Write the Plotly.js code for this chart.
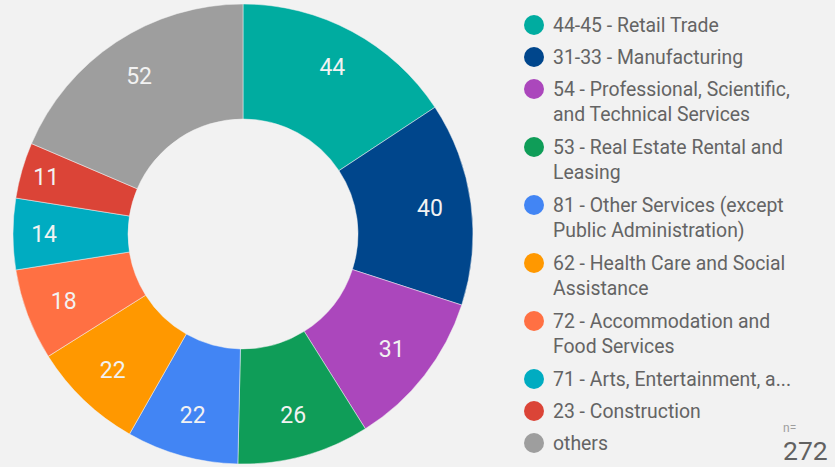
<!DOCTYPE html>
<html>
<head>
<meta charset="utf-8">
<script src="https://cdn.plot.ly/plotly-3.0.1.min.js"></script>
<style>html,body{margin:0;padding:0;background:#f2f2f2;}#chart{width:835px;height:467px;}</style>
</head>
<body>
<div id="chart"></div>
<script>
var categories = [
  '44-45 - Retail Trade',
  '31-33 - Manufacturing',
  '54 - Professional, Scientific,<br>and Technical Services',
  '53 - Real Estate Rental and<br>Leasing',
  '81 - Other Services (except<br>Public Administration)',
  '62 - Health Care and Social<br>Assistance',
  '72 - Accommodation and<br>Food Services',
  '71 - Arts, Entertainment, a...',
  '23 - Construction',
  'others'
];
var values = [44, 40, 31, 26, 22, 22, 18, 14, 11, 52];
var colors = ['#00aca0', '#00468c', '#ab47bc', '#0f9d58', '#4285f4', '#ff9800', '#ff7043', '#00acc1', '#db4437', '#9e9e9e'];
var totalN = 272;

var W = 835, H = 467;
function px(x){ return x / W; }
function py(y){ return 1 - y / H; }

var shapes = [], annotations = [];
var rowY = 25;
for (var i = 0; i < categories.length; i++) {
  var lines = categories[i].split('<br>').length;
  shapes.push({type:'circle', xref:'paper', yref:'paper',
    x0:px(524), x1:px(544), y0:py(rowY+10), y1:py(rowY-10),
    fillcolor:colors[i], line:{width:0}});
  annotations.push({xref:'paper', yref:'paper', x:px(551), y:py(rowY-13),
    xanchor:'left', yanchor:'top', align:'left', showarrow:false,
    text:categories[i], font:{family:'Roboto', size:19.4, color:'#646464'}});
  rowY += 32 + 26*(lines-1);
}
annotations.push({xref:'paper', yref:'paper', x:px(781), y:py(428), xanchor:'left', yanchor:'middle',
  showarrow:false, text:'n=', font:{family:'Roboto', size:12, color:'#9e9e9e'}});
annotations.push({xref:'paper', yref:'paper', x:px(829), y:py(450), xanchor:'right', yanchor:'middle',
  borderpad:0, showarrow:false, text:String(totalN), font:{family:'Roboto', size:26.5, color:'#616161'}});

var dom = {x:[px(13), px(473)], y:[py(464), py(4)]};
var ring = {
  type:'pie', labels:categories, values:values, hole:0.5, sort:false,
  direction:'clockwise', rotation:0,
  marker:{colors:colors, line:{color:'#f2f2f2', width:0.5}},
  textinfo:'none', domain:dom, showlegend:false, hoverinfo:'label+value'
};
var labelsRing = {
  type:'pie', labels:categories, values:values, hole:0.64, sort:false,
  direction:'clockwise', rotation:0,
  marker:{colors:colors.map(function(){return 'rgba(0,0,0,0)';}), line:{width:0}},
  textinfo:'value', textposition:'inside', insidetextorientation:'horizontal',
  textfont:{family:'Roboto', size:23, color:'#f2f2f2'},
  domain:dom, showlegend:false, hoverinfo:'skip'
};

var layout = {
  width:W, height:H, margin:{l:0, r:0, t:0, b:0},
  paper_bgcolor:'#f2f2f2', plot_bgcolor:'#f2f2f2',
  showlegend:false, shapes:shapes, annotations:annotations,
  font:{family:'Roboto'}
};
Plotly.newPlot('chart', [ring, labelsRing], layout, {displayModeBar:false, staticPlot:true});
</script>
</body>
</html>
